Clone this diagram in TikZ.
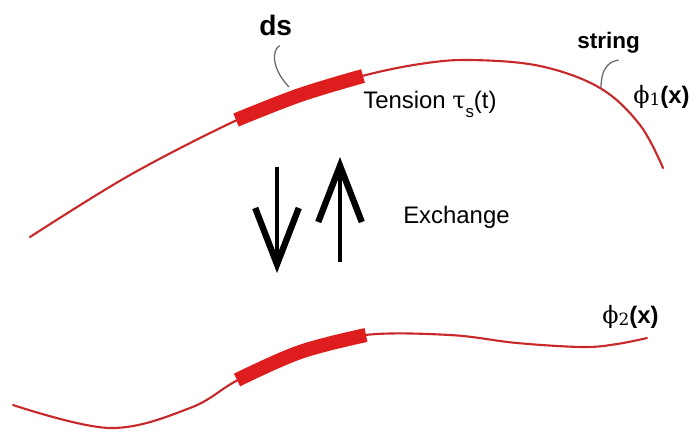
\documentclass[tikz,border=0pt]{standalone}
\usepackage{fontspec}
\setmainfont{Liberation Sans}
\newfontfamily\phifont{DejaVu Serif}
\usepackage{xcolor}
\usetikzlibrary{arrows.meta,positioning,calc}
\definecolor{strred}{RGB}{200,40,40}
\definecolor{segred}{RGB}{222,30,30}
\definecolor{leadgray}{RGB}{105,105,105}
\tikzset{
  strline/.style={draw=strred, line width=1.5pt, line cap=round},
  segment/.style={draw=segred, line width=10pt},
  leader/.style={draw=leadgray, line width=0.9pt},
  xchg/.style={line width=3pt, -{Straight Barb[length=40pt, width=31pt, line width=4.5pt]}},
  lbl/.style={inner sep=0pt, anchor=base west, font=\fontsize{17}{20}\selectfont},
}
\newcommand{\phisub}[1]{{\phifont ϕ\raisebox{-0.2ex}{\fontsize{12}{12}\selectfont #1}}\textbf{(x)}}

\begin{document}
\begin{tikzpicture}[x=0.025cm, y=-0.025cm]
  \useasboundingbox (0,0) rectangle (694,430);

  % upper string phi_1
  \draw[strline] plot[smooth, tension=0.6] coordinates {(30,237) (130,175) (237,120)
    (300,95) (362,76) (420,64) (470,60) (540,66) (600,88) (640,125) (663,168)};
  \draw[segment] plot[smooth, tension=0.6] coordinates {(236,120) (300,95) (363,76)};
  \coordinate (dsend) at (289,87);
  \coordinate (strend) at (601,88);

  % lower string phi_2
  \draw[strline] plot[smooth, tension=0.6] coordinates {(13,405) (110,428) (190,408)
    (238,380) (300,352) (365,335) (450,335) (517,343) (583,347) (617,344) (647,338)};
  \draw[segment] plot[smooth, tension=0.6] coordinates {(237,380) (300,352) (366,335)};

  % labels
  \node[lbl, font=\fontsize{20}{24}\selectfont\bfseries] (ds) at (259,35) {ds};
  \node[lbl, font=\fontsize{16}{20}\selectfont\bfseries] (strlbl) at (577,48) {string};
  \node[lbl] (tension) at (363,108) {Tension {\phifont τ}\raisebox{-7pt}{\fontsize{12}{12}\selectfont s}(t)};
  \node[lbl] (exch) at (403,223) {Exchange};
  \node[lbl] (phione) at (633,103) {\phisub{1}};
  \node[lbl] (phitwo) at (602,323) {\phisub{2}};

  \draw[leader] ([shift={(4,10)}]ds.south) .. controls (272,50) and (271,68) .. (dsend);
  \draw[leader] ([shift={(10,7)}]strlbl.south) .. controls (606,62) and (601,72) .. (strend);

  % exchange arrows
  \coordinate (dntop) at (277,167);
  \coordinate (dntip) at (277,273);
  \coordinate (upbot) at (340,262);
  \coordinate (uptip) at (340,157);
  \draw[xchg] (dntop) -- (dntip);
  \draw[xchg] (upbot) -- (uptip);
\end{tikzpicture}
\end{document}
